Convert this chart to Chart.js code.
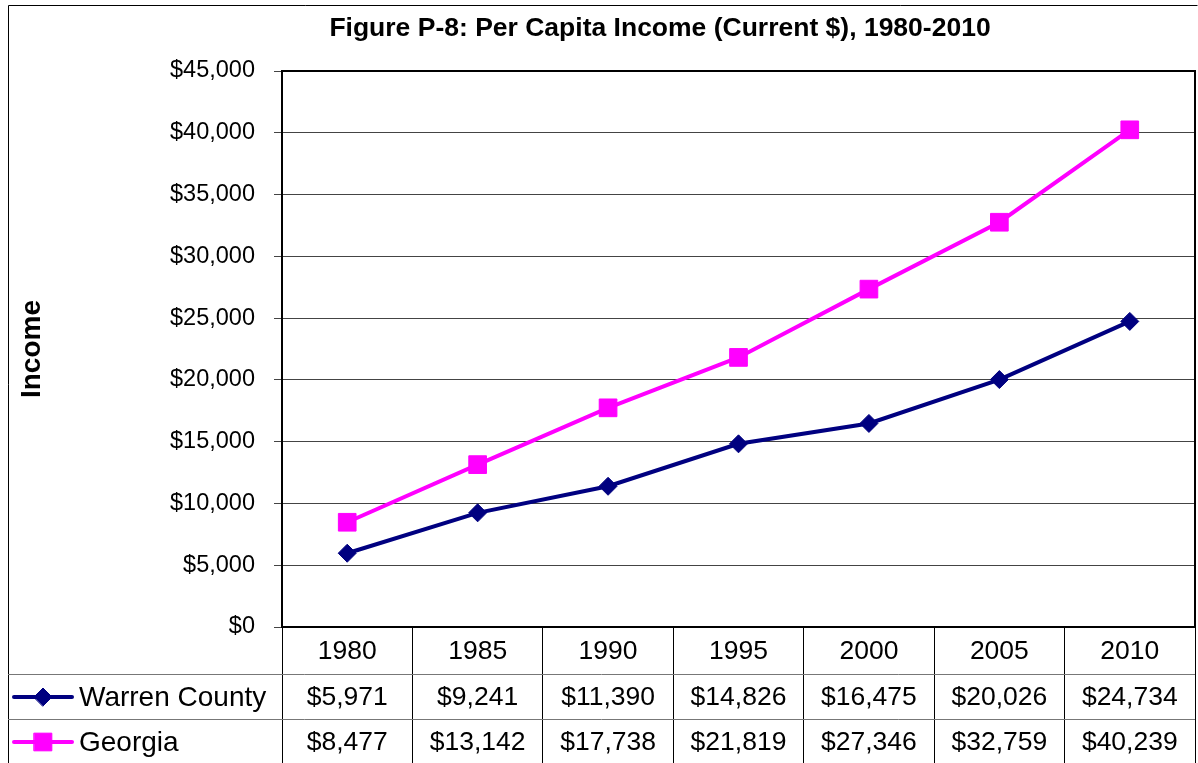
<!DOCTYPE html>
<html>
<head>
<meta charset="utf-8">
<script src="https://cdn.jsdelivr.net/npm/chart.js@4.4.1/dist/chart.umd.min.js"></script>
<style>
  html, body { margin: 0; padding: 0; background: #fff; }
  #wrap { width: 1198px; height: 763px; position: relative; }
</style>
</head>
<body>
<div id="wrap"><canvas id="c" width="1198" height="763"></canvas></div>
<script>
const chartTitle = 'Figure P-8: Per Capita Income (Current $), 1980-2010';
const yAxisTitle = 'Income';
const years = ['1980', '1985', '1990', '1995', '2000', '2005', '2010'];
const warrenCounty = [5971, 9241, 11390, 14826, 16475, 20026, 24734];
const georgia = [8477, 13142, 17738, 21819, 27346, 32759, 40239];
const seriesNames = ['Warren County', 'Georgia'];

const FONT = "'Liberation Sans', Arial, sans-serif";
const fmt = v => '$' + v.toLocaleString('en-US');

const tablePlugin = {
  id: 'tablePlugin',
  afterDraw(chart) {
    const ctx = chart.ctx;
    const ca = chart.chartArea;
    const xs = chart.scales.x;
    ctx.save();
    // outer border
    ctx.strokeStyle = '#000';
    ctx.lineWidth = 1;
    ctx.beginPath();
    ctx.moveTo(8.5, 770); ctx.lineTo(8.5, 5.5); ctx.lineTo(1197.5, 5.5);
    ctx.stroke();
    // plot area top/right border
    ctx.strokeStyle = '#000';
    ctx.lineWidth = 2;
    ctx.beginPath();
    ctx.moveTo(ca.left, ca.top); ctx.lineTo(ca.right, ca.top); ctx.lineTo(ca.right, ca.bottom);
    ctx.stroke();
    // title
    ctx.fillStyle = '#000';
    ctx.font = 'bold 26.5px ' + FONT;
    ctx.textAlign = 'center';
    ctx.textBaseline = 'middle';
    ctx.fillText(chartTitle, 660, 29);
    // y axis title
    ctx.save();
    ctx.translate(32, 349);
    ctx.rotate(-Math.PI / 2);
    ctx.font = 'bold 28px ' + FONT;
    ctx.fillText(yAxisTitle, 0, 0);
    ctx.restore();
    // table rows
    const rowY = [674, 719];
    ctx.strokeStyle = '#777';
    ctx.lineWidth = 1;
    rowY.forEach(y => {
      ctx.beginPath();
      ctx.moveTo(8, y + 0.5); ctx.lineTo(ca.right, y + 0.5);
      ctx.stroke();
    });
    ctx.font = '26.5px ' + FONT;
    ctx.fillStyle = '#000';
    ctx.textAlign = 'center';
    years.forEach((yr, i) => {
      const x = xs.getPixelForValue(i);
      ctx.fillText(yr, x, 652);
      ctx.fillText(fmt(warrenCounty[i]), x, 698);
      ctx.fillText(fmt(georgia[i]), x, 743);
    });
    // legend keys
    const ds = chart.data.datasets;
    const keyY = [697, 742];
    ds.forEach((d, k) => {
      const y = keyY[k];
      ctx.strokeStyle = d.borderColor;
      ctx.lineWidth = 4;
      ctx.lineCap = 'round';
      ctx.beginPath();
      ctx.moveTo(14, y); ctx.lineTo(72, y);
      ctx.stroke();
      ctx.fillStyle = d.backgroundColor;
      ctx.lineWidth = 1;
      Chart.helpers.drawPoint(ctx, {
        pointStyle: d.pointStyle, radius: d.pointRadius, borderWidth: 1, rotation: 0
      }, 43, y);
      ctx.fillStyle = '#000';
      ctx.textAlign = 'left';
      ctx.font = '28px ' + FONT;
      ctx.fillText(seriesNames[k], 79, y + 1);
    });
    ctx.restore();
  }
};

new Chart(document.getElementById('c'), {
  type: 'line',
  data: {
    labels: years,
    datasets: [
      {
        label: seriesNames[0], data: warrenCounty,
        borderColor: '#000080', backgroundColor: '#000080',
        borderWidth: 4, pointStyle: 'rectRot', pointRadius: 9,
        pointBorderWidth: 1, tension: 0
      },
      {
        label: seriesNames[1], data: georgia,
        borderColor: '#FF00FF', backgroundColor: '#FF00FF',
        borderWidth: 4, pointStyle: 'rect', pointRadius: 12.5,
        pointBorderWidth: 1, tension: 0
      }
    ]
  },
  options: {
    responsive: false,
    animation: false,
    devicePixelRatio: 1,
    layout: { autoPadding: false, padding: { left: 8, top: 71, right: 3, bottom: 0 } },
    plugins: { legend: { display: false }, title: { display: false }, tooltip: { enabled: false } },
    scales: {
      x: {
        offset: true,
        grid: { offset: true, drawOnChartArea: false, tickLength: 136, color: '#000', lineWidth: 1 },
        border: { display: true, color: '#000', width: 2 },
        ticks: { display: false },
        afterFit: (a) => { a.height = 136; }
      },
      y: {
        min: 0, max: 45000,
        ticks: {
          stepSize: 5000, color: '#000', padding: 19,
          font: { family: FONT, size: 23.5 },
          callback: v => fmt(v)
        },
        grid: { color: '#444', lineWidth: 1, tickLength: 8 },
        border: { display: true, color: '#000', width: 2 },
        afterFit: (a) => { a.width = 274; }
      }
    }
  },
  plugins: [tablePlugin]
});
</script>
</body>
</html>
